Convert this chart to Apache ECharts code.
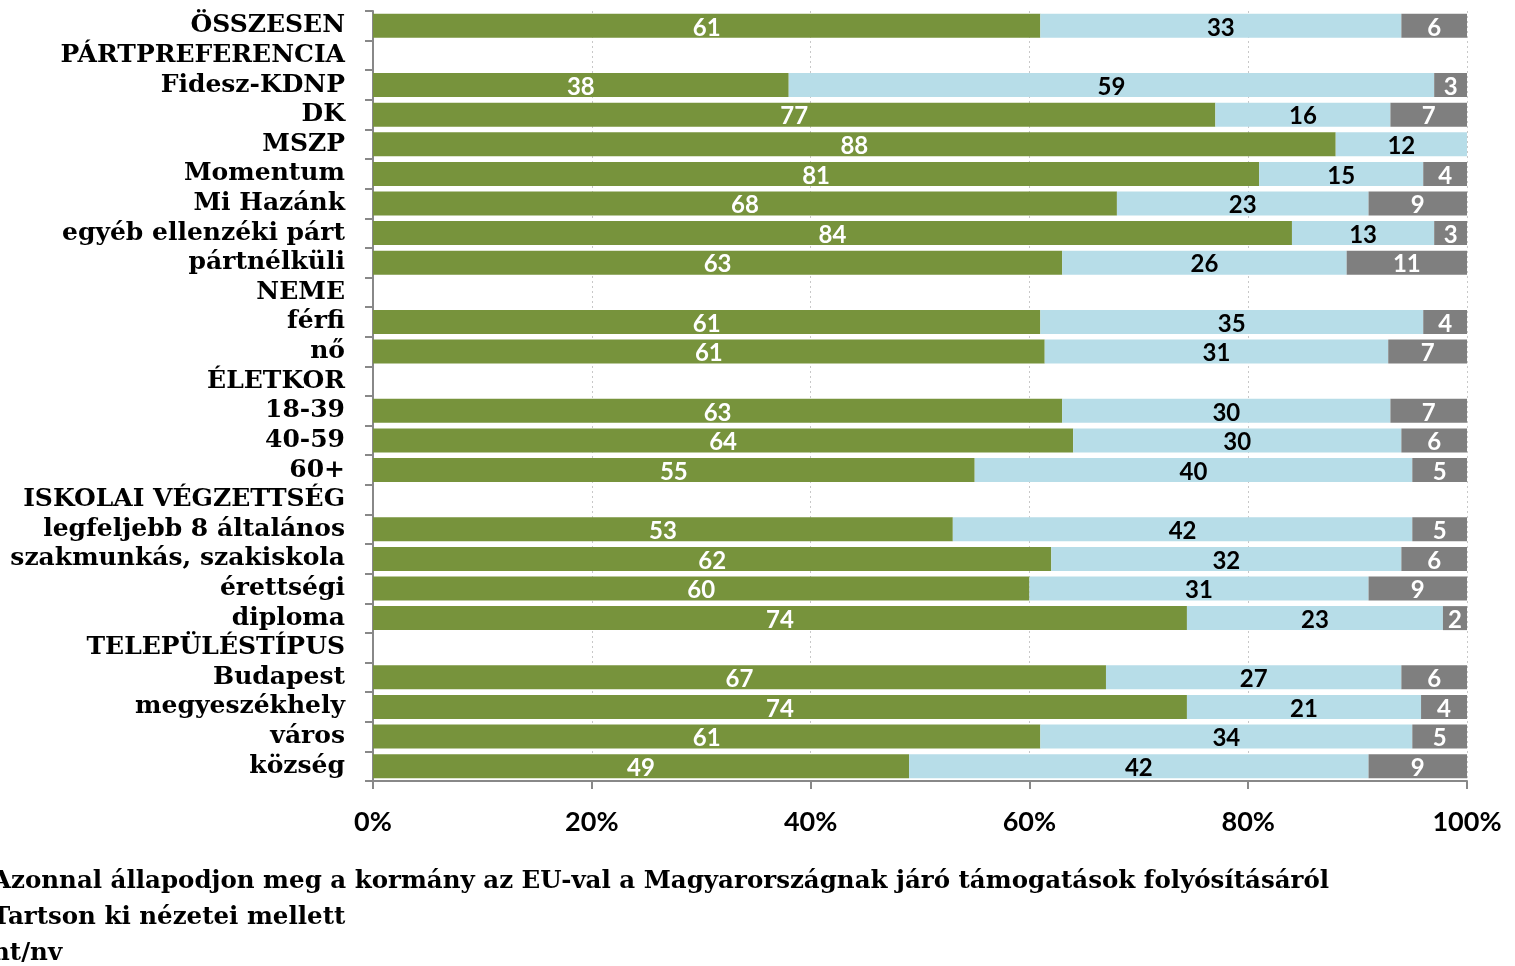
<!DOCTYPE html>
<html>
<head>
<meta charset="utf-8">
<script src="https://cdn.jsdelivr.net/npm/echarts@6/dist/echarts.min.js"></script>
<style>
  html, body { margin: 0; padding: 0; background: #fff; }
  #main { width: 1515px; height: 966px; }
</style>
</head>
<body>
<div id="main"></div>
<script>
// sorok fentről lefelé
const categories = [
  'ÖSSZESEN', 'PÁRTPREFERENCIA', 'Fidesz-KDNP', 'DK', 'MSZP', 'Momentum', 'Mi Hazánk',
  'egyéb ellenzéki párt', 'pártnélküli', 'NEME', 'férfi', 'nő', 'ÉLETKOR', '18-39', '40-59',
  '60+', 'ISKOLAI VÉGZETTSÉG', 'legfeljebb 8 általános', 'szakmunkás, szakiskola', 'érettségi',
  'diploma', 'TELEPÜLÉSTÍPUS', 'Budapest', 'megyeszékhely', 'város', 'község'
]

const seriesNames = [
  'Azonnal állapodjon meg a kormány az EU-val a Magyarországnak járó támogatások folyósításáról',
  'Tartson ki nézetei mellett',
  'nt/nv'
]

const azonnal = [61, null, 38, 77, 88, 81, 68, 84, 63, null, 61, 61.4, null, 63, 64, 55, null, 53, 62, 60, 74.4, null, 67, 74.4, 61, 49]
const tartson = [33, null, 59, 16, 12, 15, 23, 13, 26, null, 35, 31.4, null, 30, 30, 40, null, 42, 32, 31, 23.4, null, 27, 21.4, 34, 42]
const ntnv = [6, null, 3, 7, null, 4, 9, 3, 11, null, 4, 7.2, null, 7, 6, 5, null, 5, 6, 9, 2.2, null, 6, 4.2, 5, 9]

const colors = ['#77933c', '#b7dde8', '#7f7f7f']
const labelColors = ['#fff', '#000', '#fff']
const values = [azonnal, tartson, ntnv]

const chart = echarts.init(document.getElementById('main'))

const option = {
  animation: false,
  textStyle: { fontFamily: 'Lato' },
  grid: { left: 373, right: 48, top: 11, bottom: 185, containLabel: false },
  legend: {
    orient: 'vertical',
    left: -38,
    top: 867,
    height: 130,
    padding: 0,
    itemWidth: 25,
    itemHeight: 14,
    itemGap: 7,
    selectedMode: false,
    textStyle: {
      fontFamily: 'DejaVu Serif',
      fontWeight: 'bold',
      fontSize: 24.5,
      lineHeight: 29,
      color: '#000'
    },
    data: seriesNames
  },
  xAxis: {
    type: 'value',
    min: 0,
    max: 100,
    interval: 20,
    axisLine: { show: true, lineStyle: { color: '#888', width: 2 } },
    axisTick: { show: true, length: 8, lineStyle: { color: '#888', width: 2 } },
    splitLine: { show: true, lineStyle: { color: '#c8c8c8', type: [2, 3], width: 1 } },
    axisLabel: {
      margin: 28,
      fontFamily: 'Lato',
      fontWeight: 'bold',
      fontSize: 27,
      color: '#000',
      formatter: '{value}%'
    }
  },
  yAxis: {
    type: 'category',
    inverse: true,
    data: categories,
    axisLine: { show: true, lineStyle: { color: '#888', width: 2 } },
    axisTick: { show: true, length: 8, lineStyle: { color: '#888', width: 2 } },
    axisLabel: {
      interval: 0,
      margin: 28,
      padding: [3, 0, 0, 0],
      fontFamily: 'DejaVu Serif',
      fontWeight: 'bold',
      fontSize: 25,
      color: '#000'
    }
  },
  series: seriesNames.map((name, i) => ({
    name: name,
    type: 'bar',
    stack: 'total',
    barWidth: 24,
    itemStyle: { color: colors[i] },
    label: {
      show: true,
      position: 'inside',
      offset: [0, 2],
      fontFamily: 'Lato',
      fontWeight: 'bold',
      fontSize: 24,
      color: labelColors[i],
      formatter: (p) => (p.value == null ? '' : Math.round(p.value))
    },
    data: values[i]
  }))
}

chart.setOption(option)
</script>
</body>
</html>
